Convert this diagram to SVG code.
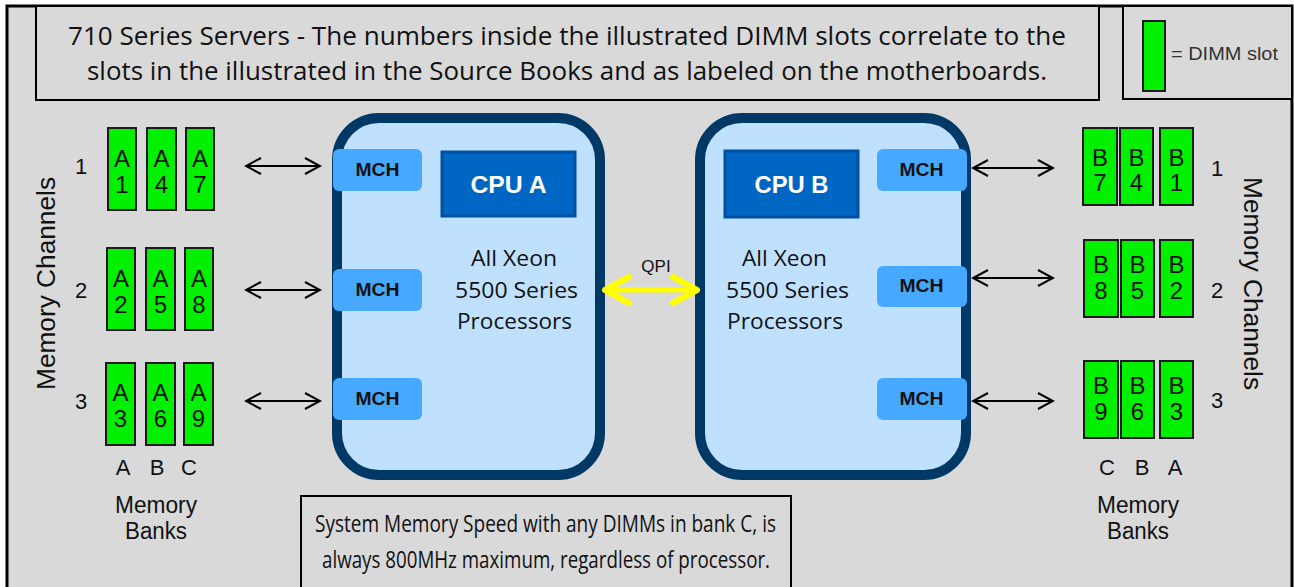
<svg xmlns="http://www.w3.org/2000/svg" width="1294" height="587" viewBox="0 0 1294 587">
<defs>
<marker id="ah" markerUnits="userSpaceOnUse" markerWidth="18" markerHeight="20" viewBox="0 0 18 20" refX="16" refY="10" orient="auto-start-reverse">
<path d="M1,2 L16,10 L1,18" fill="none" stroke="#000" stroke-width="2"/>
</marker>
<marker id="qh" markerUnits="userSpaceOnUse" markerWidth="32" markerHeight="34" viewBox="0 0 32 34" refX="29" refY="17" orient="auto-start-reverse">
<path d="M4,4 L28,17 L4,30" fill="none" stroke="#ffff00" stroke-width="6" stroke-linecap="round" stroke-linejoin="round"/>
</marker>
</defs>
<style>
.box{fill:#d9d9d9;stroke:#000;stroke-width:2}
.cal{font-family:"Open Sans","Liberation Sans",sans-serif;fill:#111}
.ar{font-family:"Liberation Sans",Arial,sans-serif;fill:#111}
.dimm{fill:#00f000;stroke:#1a1a1a;stroke-width:2}
.dt{font-family:"Liberation Sans",Arial,sans-serif;font-size:24px;fill:#111;text-anchor:middle}
.mch{fill:#47a8ff}
.mt{font-family:"Liberation Sans",Arial,sans-serif;font-size:18px;font-weight:bold;fill:#111;text-anchor:middle}
.cont{fill:#bfe1ff;stroke:#003866;stroke-width:10}
.cpu{fill:#0066c4;stroke:#0050a0;stroke-width:3}
.ct{font-family:"Liberation Sans",Arial,sans-serif;font-size:24px;font-weight:bold;fill:#fff;text-anchor:middle}
.conn{stroke:#000;stroke-width:2;fill:none;marker-start:url(#ah);marker-end:url(#ah)}
.mid{text-anchor:middle}
</style>
<rect x="0" y="0" width="1294" height="587" fill="#fff"/>
<rect x="7" y="6" width="1285" height="600" fill="#d9d9d9" stroke="#000" stroke-width="3"/>

<g id="title">
<rect class="box" x="36" y="6" width="1063" height="94"/>
<text class="cal mid" x="567" y="45" font-size="25" textLength="998" lengthAdjust="spacingAndGlyphs">710 Series Servers - The numbers inside the illustrated DIMM slots correlate to the</text>
<text class="cal mid" x="567" y="80" font-size="25" textLength="960" lengthAdjust="spacingAndGlyphs">slots in the illustrated in the Source Books and as labeled on the motherboards.</text>
</g>

<g id="legend">
<rect class="box" x="1123" y="6" width="169" height="93"/>
<rect class="dimm" x="1143" y="21" width="22" height="70"/>
<text x="1171" y="60" font-family="Liberation Sans, Arial, sans-serif" font-size="18" fill="#333" textLength="107" lengthAdjust="spacingAndGlyphs">= DIMM slot</text>
</g>

<g id="cpu-a">
<rect class="cont" x="337" y="118" width="263" height="357" rx="42"/>
<rect class="cpu" x="442" y="152" width="133" height="64"/>
<text class="ct" x="508.5" y="193" textLength="76" lengthAdjust="spacingAndGlyphs">CPU A</text>
<text class="cal mid" x="514" y="266" font-size="21" textLength="86" lengthAdjust="spacingAndGlyphs">All Xeon</text>
<text class="cal mid" x="516.5" y="298" font-size="21" textLength="123" lengthAdjust="spacingAndGlyphs">5500 Series</text>
<text class="cal mid" x="514.5" y="329" font-size="21" textLength="115" lengthAdjust="spacingAndGlyphs">Processors</text>
</g>

<g id="cpu-b">
<rect class="cont" x="700" y="118" width="266" height="357" rx="42"/>
<rect class="cpu" x="725" y="151" width="133" height="66"/>
<text class="ct" x="791.5" y="193" textLength="74" lengthAdjust="spacingAndGlyphs">CPU B</text>
<text class="cal mid" x="784.5" y="266" font-size="21" textLength="85" lengthAdjust="spacingAndGlyphs">All Xeon</text>
<text class="cal mid" x="787.5" y="298" font-size="21" textLength="123" lengthAdjust="spacingAndGlyphs">5500 Series</text>
<text class="cal mid" x="785" y="329" font-size="21" textLength="116" lengthAdjust="spacingAndGlyphs">Processors</text>
</g>

<g id="mch-a1"><rect class="mch" x="333" y="149" width="89" height="42" rx="6"/><text class="mt" x="377.5" y="176" textLength="44" lengthAdjust="spacingAndGlyphs">MCH</text></g>
<g id="mch-a2"><rect class="mch" x="333" y="269" width="89" height="42" rx="6"/><text class="mt" x="377.5" y="296" textLength="44" lengthAdjust="spacingAndGlyphs">MCH</text></g>
<g id="mch-a3"><rect class="mch" x="333" y="378" width="89" height="42" rx="6"/><text class="mt" x="377.5" y="405" textLength="44" lengthAdjust="spacingAndGlyphs">MCH</text></g>
<g id="mch-b1"><rect class="mch" x="877" y="149" width="90" height="42" rx="6"/><text class="mt" x="921.5" y="176" textLength="44" lengthAdjust="spacingAndGlyphs">MCH</text></g>
<g id="mch-b2"><rect class="mch" x="877" y="266" width="90" height="41" rx="6"/><text class="mt" x="921.5" y="292" textLength="44" lengthAdjust="spacingAndGlyphs">MCH</text></g>
<g id="mch-b3"><rect class="mch" x="877" y="378" width="90" height="42" rx="6"/><text class="mt" x="921.5" y="405" textLength="44" lengthAdjust="spacingAndGlyphs">MCH</text></g>

<g id="dimms-a">
<rect class="dimm" x="108" y="128" width="28" height="82"/><text class="dt" x="122" y="167">A</text><text class="dt" x="122" y="193">1</text>
<rect class="dimm" x="147" y="128" width="29" height="82"/><text class="dt" x="161.5" y="167">A</text><text class="dt" x="161.5" y="193">4</text>
<rect class="dimm" x="186" y="128" width="28" height="82"/><text class="dt" x="200" y="167">A</text><text class="dt" x="200" y="193">7</text>
<rect class="dimm" x="107" y="248" width="28" height="82"/><text class="dt" x="121" y="287">A</text><text class="dt" x="121" y="313">2</text>
<rect class="dimm" x="146" y="248" width="29" height="82"/><text class="dt" x="160.5" y="287">A</text><text class="dt" x="160.5" y="313">5</text>
<rect class="dimm" x="185" y="248" width="28" height="82"/><text class="dt" x="199" y="287">A</text><text class="dt" x="199" y="313">8</text>
<rect class="dimm" x="106" y="363" width="29" height="82"/><text class="dt" x="120.5" y="401">A</text><text class="dt" x="120.5" y="427">3</text>
<rect class="dimm" x="146" y="363" width="29" height="82"/><text class="dt" x="160.5" y="401">A</text><text class="dt" x="160.5" y="427">6</text>
<rect class="dimm" x="184" y="363" width="29" height="82"/><text class="dt" x="198.5" y="401">A</text><text class="dt" x="198.5" y="427">9</text>
</g>

<g id="dimms-b">
<rect class="dimm" x="1083" y="128" width="34" height="77"/><text class="dt" x="1100" y="166">B</text><text class="dt" x="1100" y="191">7</text>
<rect class="dimm" x="1120" y="128" width="33" height="77"/><text class="dt" x="1136.5" y="166">B</text><text class="dt" x="1136.5" y="191">4</text>
<rect class="dimm" x="1160" y="128" width="33" height="77"/><text class="dt" x="1176.5" y="166">B</text><text class="dt" x="1176.5" y="191">1</text>
<rect class="dimm" x="1084" y="240" width="34" height="77"/><text class="dt" x="1101" y="273">B</text><text class="dt" x="1101" y="299">8</text>
<rect class="dimm" x="1121" y="240" width="33" height="77"/><text class="dt" x="1137.5" y="273">B</text><text class="dt" x="1137.5" y="299">5</text>
<rect class="dimm" x="1160" y="240" width="33" height="77"/><text class="dt" x="1176.5" y="273">B</text><text class="dt" x="1176.5" y="299">2</text>
<rect class="dimm" x="1084" y="361" width="34" height="77"/><text class="dt" x="1101" y="394">B</text><text class="dt" x="1101" y="420">9</text>
<rect class="dimm" x="1121" y="361" width="33" height="77"/><text class="dt" x="1137.5" y="394">B</text><text class="dt" x="1137.5" y="420">6</text>
<rect class="dimm" x="1160" y="361" width="33" height="77"/><text class="dt" x="1176.5" y="394">B</text><text class="dt" x="1176.5" y="420">3</text>
</g>

<g id="labels-left">
<text class="ar mid" x="81" y="174" font-size="22">1</text>
<text class="ar mid" x="81" y="298" font-size="22">2</text>
<text class="ar mid" x="81" y="409" font-size="22">3</text>
<text class="ar mid" transform="translate(55,283.5) rotate(-90)" font-size="25" textLength="213" lengthAdjust="spacingAndGlyphs">Memory  Channels</text>
<text class="ar mid" x="123" y="475" font-size="22">A</text>
<text class="ar mid" x="157" y="475" font-size="22">B</text>
<text class="ar mid" x="189" y="475" font-size="22">C</text>
<text class="ar mid" x="156" y="513" font-size="23" textLength="82" lengthAdjust="spacingAndGlyphs">Memory</text>
<text class="ar mid" x="156" y="539" font-size="23" textLength="62" lengthAdjust="spacingAndGlyphs">Banks</text>
</g>

<g id="labels-right">
<text class="ar mid" x="1217" y="176" font-size="22">1</text>
<text class="ar mid" x="1217" y="298" font-size="22">2</text>
<text class="ar mid" x="1217" y="408" font-size="22">3</text>
<text class="ar mid" transform="translate(1244,283.5) rotate(90)" font-size="25" textLength="213" lengthAdjust="spacingAndGlyphs">Memory  Channels</text>
<text class="ar mid" x="1107" y="475" font-size="22">C</text>
<text class="ar mid" x="1142" y="475" font-size="22">B</text>
<text class="ar mid" x="1175" y="475" font-size="22">A</text>
<text class="ar mid" x="1138" y="513" font-size="23" textLength="82" lengthAdjust="spacingAndGlyphs">Memory</text>
<text class="ar mid" x="1138" y="539" font-size="23" textLength="62" lengthAdjust="spacingAndGlyphs">Banks</text>
</g>

<g id="note">
<rect class="box" x="301" y="496" width="490" height="100"/>
<text class="cal mid" x="545.5" y="532" font-size="24" textLength="461" lengthAdjust="spacingAndGlyphs">System Memory Speed with any DIMMs in bank C, is</text>
<text class="cal mid" x="546" y="568" font-size="24" textLength="448" lengthAdjust="spacingAndGlyphs">always 800MHz maximum, regardless of processor.</text>
</g>

<g id="connectors">
<line class="conn" x1="246" y1="166" x2="320" y2="166"/>
<line class="conn" x1="246" y1="290" x2="320" y2="290"/>
<line class="conn" x1="246" y1="401" x2="320" y2="401"/>
<line class="conn" x1="973" y1="168" x2="1053" y2="168"/>
<line class="conn" x1="973" y1="278" x2="1053" y2="278"/>
<line class="conn" x1="973" y1="401" x2="1053" y2="401"/>
<line x1="604" y1="290" x2="698" y2="290" stroke="#ffff00" stroke-width="5" marker-start="url(#qh)" marker-end="url(#qh)"/>
<text class="ar mid" x="656" y="272" font-size="17">QPI</text>
</g>
</svg>
